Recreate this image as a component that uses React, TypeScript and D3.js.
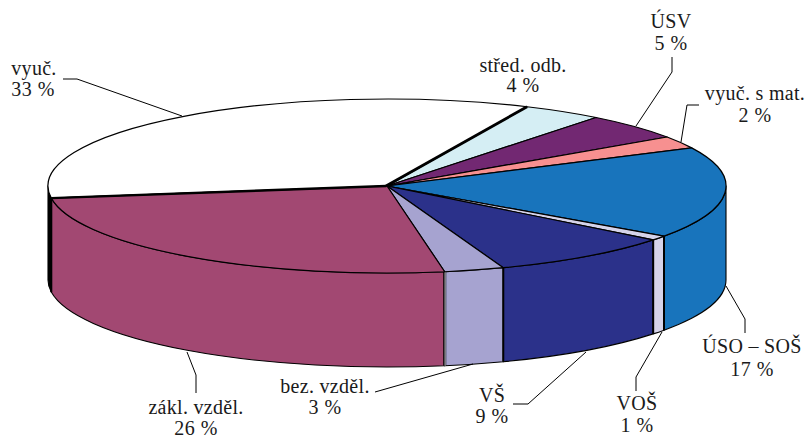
import React from "react";
import * as d3 from "d3";

const categories = ["vyuč.", "střed. odb.", "ÚSV", "vyuč. s mat.", "ÚSO – SOŠ", "VOŠ", "VŠ", "bez. vzděl.", "zákl. vzděl."];
const percentLabels = ["33 %", "4 %", "5 %", "2 %", "17 %", "1 %", "9 %", "3 %", "26 %"];
const drawnShares = [34.0, 3.8, 4.9, 2.3, 17.0, 0.85, 8.8, 2.85, 25.5];
const colors = ["#ffffff", "#d5eef4", "#722872", "#f79090", "#1874bc", "#d5d3ea", "#2b318a", "#a6a3d0", "#a24872"];
const sideColors = ["#000000", "#d5eef4", "#722872", "#f79090", "#1874bc", "#d5d3ea", "#2b318a", "#a6a3d0", "#a24872"];

const labelLines: [number, number, number, number][] = [
  [34, 75, 33, 96],
  [523, 72, 523, 92],
  [671, 28, 671, 50],
  [755, 100, 755, 122],
  [752, 353, 752, 376],
  [637, 410, 637, 432],
  [492, 402, 492, 423],
  [325, 393, 325, 414],
  [196, 414, 196, 435],
];
const leaders: [number, number][][] = [
  [[63, 79], [77, 79], [182, 116]],
  [],
  [[636, 126], [672, 72], [672, 57]],
  [[681, 142], [687, 105], [699, 105]],
  [[726, 286], [745, 319], [745, 333]],
  [[662, 332], [636, 377], [636, 391]],
  [[586, 352], [528, 404], [513, 404]],
  [[473, 364], [375, 392]],
  [[187, 352], [196, 375], [196, 393]],
];

const CX = 387, CY = 186, RX = 339, RY = 87, DEPTH = 94;
const START = (262 * Math.PI) / 180;

const px = (a: number) => CX + RX * Math.sin(a);
const py = (a: number) => CY - RY * Math.cos(a);
const TWO_PI = Math.PI * 2;

function sidePath(a0: number, a1: number) {
  const lo = Math.max(a0, Math.PI / 2);
  const hi = Math.min(a1, (3 * Math.PI) / 2);
  if (hi <= lo) return null;
  return (
    `M${px(lo)},${py(lo)}A${RX},${RY} 0 0 1 ${px(hi)},${py(hi)}` +
    `L${px(hi)},${py(hi) + DEPTH}A${RX},${RY} 0 0 0 ${px(lo)},${py(lo) + DEPTH}Z`
  );
}

export default function App() {
  const arcsRaw = d3.pie<number>().sort(null).startAngle(START).endAngle(START + TWO_PI)(drawnShares);
  const arcGen = d3.arc<any>().innerRadius(0).outerRadius(RX);
  const line = d3.line();
  const walls: { d: string; fill: string }[] = [];
  const seams: { a: number; i: number }[] = [];
  arcsRaw.forEach((s, i) => {
    [0, -TWO_PI].forEach((shift) => {
      const d = sidePath(s.startAngle + shift, s.endAngle + shift);
      if (d) walls.push({ d, fill: sideColors[i] });
      const e = s.endAngle + shift;
      if (e > Math.PI / 2 && e < (3 * Math.PI) / 2) seams.push({ a: e, i });
    });
  });
  const spoke = (a: number) => line([[CX - 1, CY], [px(a), py(a)]]) as string;
  return (
    <svg width={808} height={437} style={{ position: "absolute", left: 0, top: 0, background: "#fff" }} fontFamily="'Liberation Serif', serif" fontSize={20}>
      {walls.map((w, i) => (
        <path key={i} d={w.d} fill={w.fill} stroke="#000" strokeWidth={1.1} strokeLinejoin="round" />
      ))}
      {seams.map(({ a, i }) => (
        <g key={i}>
          <path d={line([[px(a), py(a)], [px(a), py(a) + DEPTH]]) as string} stroke="#000" strokeWidth={i === 7 ? 3 : 2} />
          {i === 7 && <path d={line([[px(a) + 0.4, py(a)], [px(a) + 0.4, py(a) + DEPTH]]) as string} stroke="#e8e8f4" strokeWidth={0.9} />}
        </g>
      ))}
      <g transform={`translate(${CX},${CY}) scale(1,${RY / RX})`}>
        {arcsRaw.map((s, i) => (
          <path key={i} d={arcGen(s) as string} fill={colors[i]} stroke="#000" strokeWidth={1.2} vectorEffect="non-scaling-stroke" strokeLinejoin="round" />
        ))}
      </g>
      <path d={spoke(arcsRaw[0].startAngle)} stroke="#000" strokeWidth={2.4} fill="none" />
      <path d={spoke(arcsRaw[0].endAngle)} stroke="#000" strokeWidth={2.8} fill="none" />
      {leaders.map((l, i) => l.length > 0 && (
        <path key={i} d={line(l) as string} fill="none" stroke="#000" strokeWidth={1} />
      ))}
      {categories.map((c, i) => (
        <g key={c} fill="#1a1a1a" textAnchor="middle">
          <text x={labelLines[i][0]} y={labelLines[i][1]} letterSpacing={0.3}>{c}</text>
          <text x={labelLines[i][2]} y={labelLines[i][3]} letterSpacing={0.5}>{percentLabels[i]}</text>
        </g>
      ))}
    </svg>
  );
}
